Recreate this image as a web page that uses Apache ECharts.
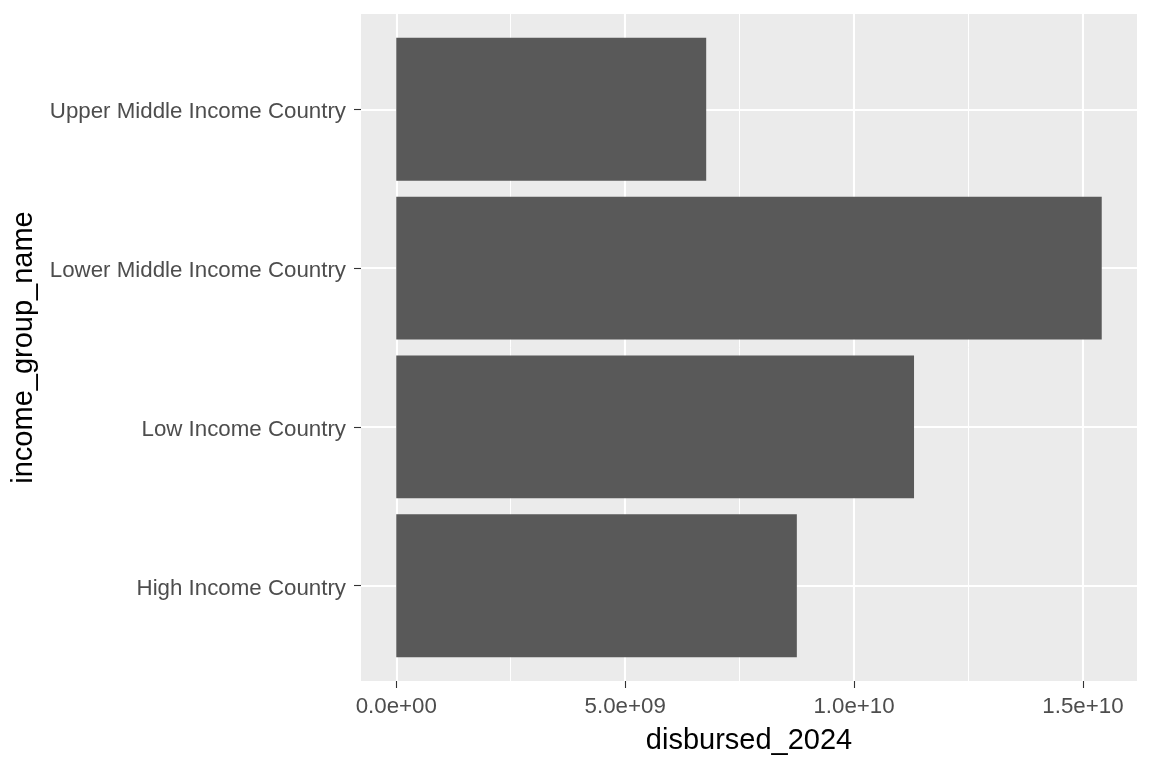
<!DOCTYPE html>
<html>
<head>
<meta charset="utf-8">
<script src="https://cdn.jsdelivr.net/npm/echarts@6/dist/echarts.min.js"></script>
<style>
html,body{margin:0;padding:0;background:#fff;}
#chart{width:1152px;height:768px;}
</style>
</head>
<body>
<div id="chart"></div>
<script>
const categories = ['High Income Country', 'Low Income Country', 'Lower Middle Income Country', 'Upper Middle Income Country'];
const disbursed = [8.75e9, 11.31e9, 15.41e9, 6.77e9];
const xMajorTicks = [0, 5e9, 1e10, 1.5e10];
const xMinorTicks = [2.5e9, 7.5e9, 1.25e10];
const xTickLabels = ['0.0e+00', '5.0e+09', '1.0e+10', '1.5e+10'];

const FONT = "'Liberation Sans', Arial, sans-serif";
const maxVal = Math.max.apply(null, disbursed);
const xMin = -0.05 * maxVal;
const xMax = 1.05 * maxVal;
const catPos = categories.map((c, i) => i + 1);

const chart = echarts.init(document.getElementById('chart'), null, {renderer: 'canvas'});
chart.setOption({
  animation: false,
  backgroundColor: '#ffffff',
  grid: {
    left: 361, right: 15, top: 14, bottom: 87,
    show: true, backgroundColor: '#EBEBEB', borderWidth: 0
  },
  xAxis: [{
    type: 'value', min: xMin, max: xMax,
    axisLine: {show: false, onZero: false},
    axisTick: {show: true, customValues: xMajorTicks, length: 7, lineStyle: {color: '#333333', width: 1.1}},
    axisLabel: {
      customValues: xMajorTicks, margin: 14.5, color: '#4D4D4D', fontSize: 22.3, fontFamily: FONT,
      formatter: function (v) { const i = xMajorTicks.indexOf(v); return i >= 0 ? xTickLabels[i] : ''; }
    },
    splitLine: {show: true, customValues: xMajorTicks, lineStyle: {color: '#ffffff', width: 2.1}},
    name: 'disbursed_2024', nameLocation: 'middle', nameGap: 45.5,
    nameTextStyle: {color: '#000000', fontSize: 29, fontFamily: FONT}
  }, {
    type: 'value', min: xMin, max: xMax, position: 'bottom',
    axisLine: {show: false, onZero: false},
    axisTick: {show: false, customValues: xMinorTicks},
    axisLabel: {show: false, customValues: xMinorTicks},
    splitLine: {show: true, customValues: xMinorTicks, lineStyle: {color: '#ffffff', width: 1}}
  }],
  yAxis: {
    type: 'value', min: 0.4, max: 4.6,
    axisLine: {show: false, onZero: false},
    axisTick: {show: true, customValues: catPos, length: 7, lineStyle: {color: '#333333', width: 1.1}},
    axisLabel: {
      customValues: catPos, margin: 15, color: '#4D4D4D', fontSize: 22.3, fontFamily: FONT,
      verticalAlign: 'top', lineHeight: 6,
      formatter: function (v) { return categories[Math.round(v) - 1] || ''; }
    },
    splitLine: {show: true, customValues: catPos, lineStyle: {color: '#ffffff', width: 2.1}},
    name: 'income_group_name', nameLocation: 'middle', nameRotate: 90, nameGap: 317,
    nameTextStyle: {color: '#000000', fontSize: 29, fontFamily: FONT}
  },
  series: [{
    type: 'custom',
    xAxisIndex: 0, yAxisIndex: 0,
    encode: {x: 0, y: 1},
    data: disbursed.map((v, i) => [v, catPos[i]]),
    renderItem: function (params, api) {
      const x = api.value(0), y = api.value(1);
      const s = api.coord([0, y]);
      const e = api.coord([x, y]);
      const h = api.size([0, 0.9])[1];
      return {
        type: 'rect',
        shape: {x: s[0], y: s[1] - h / 2, width: e[0] - s[0], height: h},
        style: {fill: '#595959'}
      };
    },
    z: 5
  }]
});
</script>
</body>
</html>
